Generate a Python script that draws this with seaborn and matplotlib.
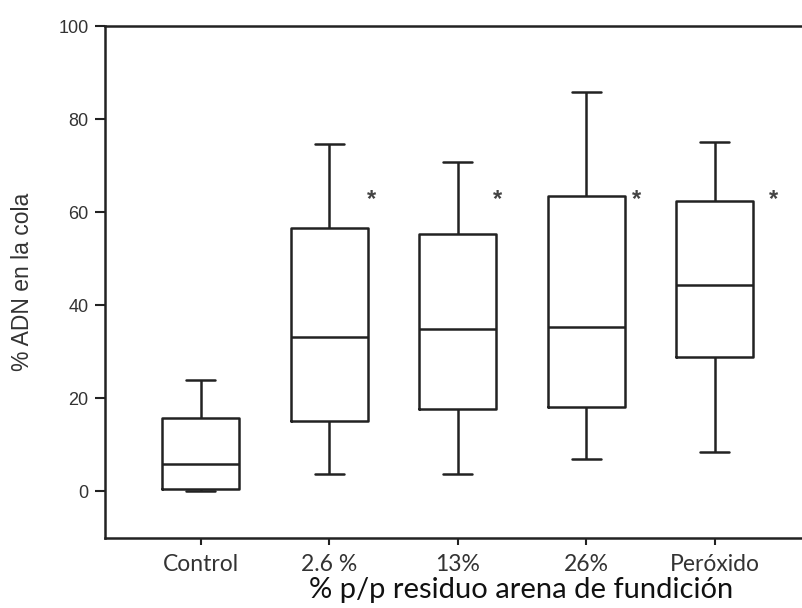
import matplotlib
matplotlib.use("Agg")
import matplotlib.pyplot as plt
import seaborn as sns
import pandas as pd

categories = ["Control", "2.6 %", "13%", "26%", "Peróxido"]
# five-number summaries: low whisker, Q1, median, Q3, high whisker
whisker_low = [0.0, 3.8, 3.8, 6.9, 8.5]
q1 = [0.5, 15.1, 17.7, 18.1, 28.9]
median = [5.8, 33.2, 34.8, 35.3, 44.4]
q3 = [15.8, 56.5, 55.2, 63.4, 62.4]
whisker_high = [23.9, 74.6, 70.8, 85.8, 75.0]
star_y = [None, 63.4, 63.4, 63.4, 63.4]
star_dx = [0, 0.33, 0.31, 0.39, 0.46]

rows = []
for i, c in enumerate(categories):
    for v in (whisker_low[i], q1[i], median[i], q3[i], whisker_high[i]):
        rows.append({"grupo": c, "valor": v})
df = pd.DataFrame(rows)

sns.set_style("white")
plt.rcParams["font.family"] = ["Liberation Sans", "DejaVu Sans"]

fig = plt.figure(figsize=(8.02, 6.08), dpi=100)
ax = fig.add_axes([0.1313, 0.1156, 0.8687, 0.8416])

sns.boxplot(data=df, x="grupo", y="valor", order=categories, whis=(0, 100),
            width=0.6, fill=False, color="#222222", linewidth=1.8,
            capwidths=0.225, ax=ax)

for i, (sy, dx) in enumerate(zip(star_y, star_dx)):
    if sy is not None:
        ax.text(i + dx, sy - 0.8, "*", ha="center", va="center", fontsize=17,
                fontweight="bold", color="#444444")

ax.set_ylim(-10, 100)
ax.set_xlim(-0.743, 4.68)
ax.set_yticks([0, 20, 40, 60, 80, 100])
ax.tick_params(axis="y", labelsize=13, length=7, width=1.5, color="#222222",
               left=True, direction="out", pad=5, labelcolor="#333333")
ax.tick_params(axis="x", length=5, width=1.5, color="#222222", bottom=True,
               direction="out", pad=7)
for lbl in ax.get_xticklabels():
    lbl.set_fontfamily(["Lato", "DejaVu Sans"])
    lbl.set_fontsize(16.5)
    lbl.set_color("#333333")

for side in ["left", "bottom", "top"]:
    ax.spines[side].set_visible(True)
    ax.spines[side].set_color("#222222")
    ax.spines[side].set_linewidth(1.8)
ax.spines["right"].set_visible(False)

ax.set_ylabel("% ADN en la cola", fontsize=16.5, color="#333333", va="center")
ax.yaxis.set_label_coords(-0.119, 0.5)
ax.set_xlabel("% p/p residuo arena de fundición", fontsize=21,
              fontfamily=["Lato", "DejaVu Sans"], color="#111111", va="center")
ax.xaxis.set_label_coords(0.597, -0.103)

fig.savefig("out.png", dpi=100)
